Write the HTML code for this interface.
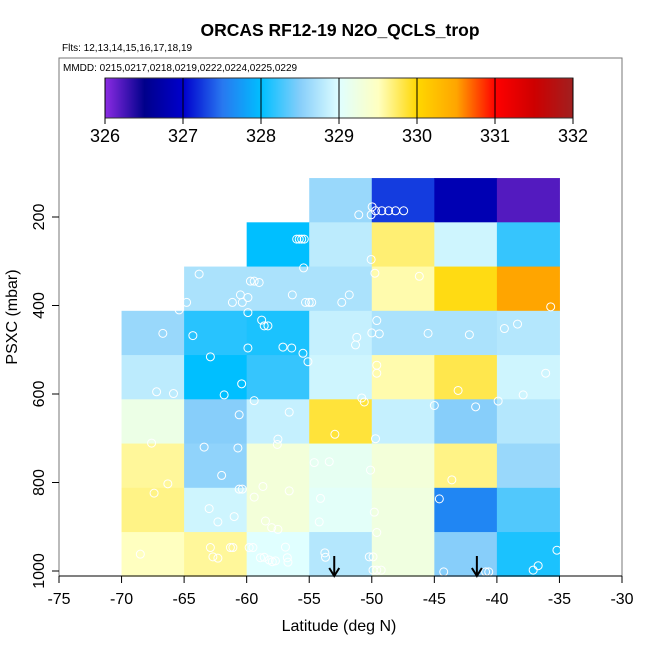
<!DOCTYPE html>
<html><head><meta charset="utf-8"><style>
body{margin:0;background:#fff;}
svg{display:block;font-family:"Liberation Sans",Arial,sans-serif;}
</style></head><body>
<svg id="chart" width="650" height="650" viewBox="0 0 650 650">
<text x="340" y="36" text-anchor="middle" font-size="17.5" font-weight="bold">ORCAS RF12-19 N2O_QCLS_trop</text>
<text x="62" y="51" font-size="10">Flts: 12,13,14,15,16,17,18,19</text>
<rect x="59" y="58" width="563" height="518" fill="none" stroke="#777" stroke-width="1"/>
<text x="63" y="71" font-size="10">MMDD: 0215,0217,0218,0219,0222,0224,0225,0229</text>
<g id="cells"></g>
<g id="pts"></g>
<g id="arrows"></g>
<g id="cbar"></g>
<g id="axes"></g>
<text x="339" y="631" text-anchor="middle" font-size="16">Latitude (deg N)</text>
<text transform="translate(17,317) rotate(-90)" text-anchor="middle" font-size="16">PSXC (mbar)</text>
</svg>
<script>
const latEdges=[-70,-65,-60,-55,-50,-45,-40,-35];
const presEdges=[112,212,312,412,512,612,712,812,912,1012];
// rows top->bottom, columns west->east; null = no data
const cellValues=[
[null,null,null,328.6,327.25,326.8,326.2],
[null,null,328.0,328.8,329.7,328.9,328.2],
[null,328.7,328.7,328.7,329.55,329.95,330.5],
[328.6,328.15,328.1,328.85,328.7,328.7,328.75],
[328.8,328.0,328.2,328.9,329.55,329.8,328.9],
[329.2,328.5,328.85,329.85,328.85,328.5,328.75],
[329.6,328.55,329.3,329.1,329.3,329.65,328.6],
[329.65,328.9,329.3,329.05,329.25,327.6,328.3],
[329.5,329.6,329.0,328.75,329.25,328.5,328.1]];
const ptLat=[-49.97,-49.7,-49.2,-48.65,-48.1,-47.45,-51.04,-50.05,-56.0,-55.8,-55.6,-55.4,-50.05,-63.8,-55.45,-49.75,-46.2,-59.7,-59.4,-59.0,-60.5,-59.9,-56.35,-61.14,-60.35,-64.8,-65.4,-55.3,-55.0,-54.8,-52.4,-51.8,-35.7,-59.9,-58.8,-58.6,-58.3,-66.7,-64.3,-59.9,-57.1,-56.4,-55.5,-55.1,-49.6,-50.0,-49.4,-51.2,-51.3,-45.5,-42.2,-39.4,-38.35,-62.9,-60.4,-61.8,-67.2,-65.85,-49.6,-49.6,-43.1,-36.1,-37.9,-39.9,-59.4,-56.6,-60.6,-50.8,-50.6,-45.0,-41.7,-52.95,-49.7,-57.5,-57.55,-67.6,-63.4,-60.7,-62.0,-66.3,-67.4,-54.6,-53.4,-50.1,-43.6,-60.6,-60.35,-58.7,-56.6,-59.4,-63.0,-61.0,-62.3,-58.5,-58.0,-57.5,-54.1,-54.2,-49.8,-49.6,-44.6,-68.5,-62.9,-62.7,-62.3,-61.3,-61.1,-59.8,-59.5,-56.9,-58.9,-58.6,-58.2,-57.95,-57.7,-56.75,-56.7,-53.75,-53.7,-50.2,-49.9,-49.9,-49.6,-49.25,-44.25,-40.9,-40.65,-37.1,-36.7,-35.2];
const ptPres=[177,186,186,186,186,186,195,195,250,250,250,250,296,329,315,327,334,345,345,348,376,382,376,393,393,393,410,393,393,393,393,376,403,416,433,446,446,463,468,496,494,496,508,527,434,462,464,472,489,463,466,452,442,516,577,602,595,599,535,553,592,553,602,616,615,641,647,609,618,626,629,691,701,702,714,711,720,722,784,803,824,755,753,772,794,815,815,809,819,833,859,877,889,887,902,906,836,889,867,913,837,962,947,968,971,947,947,947,947,946,970,969,975,979,977,970,980,959,969,968,968,998,998,998,1002,1002,1002,998,988,953];
const arrowLat=[-53.0,-41.6];
const xTicks=[-75,-70,-65,-60,-55,-50,-45,-40,-35,-30];
const yTicks=[200,400,600,800,1000];
const cbTicks=[326,327,328,329,330,331,332];

const X=v=>59+(v+75)*(563/45);
const Y=p=>217+(p-200)*0.4425;
const CB=v=>105+(v-326)*78;
const stops=[[326,[138,43,226]],[326.5,[0,0,139]],[327,[0,0,205]],[327.5,[40,120,240]],[328,[0,191,255]],[328.5,[135,206,250]],[329,[224,255,255]],[329.5,[255,255,192]],[330,[255,215,0]],[330.5,[255,165,0]],[331,[255,0,0]],[331.5,[205,0,0]],[332,[160,32,32]]];
function col(v){v=Math.max(326,Math.min(332,v));for(let i=0;i<stops.length-1;i++){const a=stops[i],b=stops[i+1];if(v<=b[0]){const t=(v-a[0])/(b[0]-a[0]);const c=a[1].map((x,k)=>Math.round(x+(b[1][k]-x)*t));return `rgb(${c})`;}}return 'rgb(160,32,32)';}
const NS='http://www.w3.org/2000/svg';
function mk(t,a,p){const e=document.createElementNS(NS,t);for(const k in a)e.setAttribute(k,a[k]);p.appendChild(e);return e;}
const gc=document.getElementById('cells');
cellValues.forEach((row,r)=>row.forEach((v,c)=>{if(v===null)return;
 const x0=X(latEdges[c]),x1=X(latEdges[c+1]),y0=Y(presEdges[r]),y1=Y(presEdges[r+1]);
 const e=mk('rect',{x:x0,y:y0,width:x1-x0+0.5,height:y1-y0+0.5,fill:col(v)},gc);
 
 }));
const gp=document.getElementById('pts');
ptLat.forEach((la,i)=>{const e=mk('circle',{cx:X(la),cy:Y(ptPres[i]),r:4,fill:'none',stroke:'#fff','stroke-width':1},gp);
 
 });
const ga=document.getElementById('arrows');
arrowLat.forEach(la=>{const x=X(la);const g=mk('g',{},ga);
 
 
 mk('line',{x1:x,y1:556,x2:x,y2:575,stroke:'#000','stroke-width':2},g);
 mk('path',{d:`M${x-5},${568} L${x},${576} L${x+5},${568}`,fill:'none',stroke:'#000','stroke-width':2},g);});
const gb=document.getElementById('cbar');
for(let i=0;i<468;i++){const v=326+i/78;mk('rect',{x:105+i,y:78,width:1.2,height:40,fill:col(v)},gb);}
mk('rect',{x:105,y:78,width:468,height:40,fill:'none',stroke:'#333','stroke-width':1},gb);
cbTicks.forEach(t=>{const x=CB(t);
 mk('line',{x1:x,y1:78,x2:x,y2:124,stroke:'#000','stroke-width':1},gb);
 const e=mk('text',{x:x,y:142,'text-anchor':'middle','font-size':18},gb);e.textContent=t;
 
 });
const gx=document.getElementById('axes');
mk('line',{x1:X(-75),y1:576,x2:X(-30),y2:576,stroke:'#000','stroke-width':1},gx);
xTicks.forEach(t=>{const x=X(t);mk('line',{x1:x,y1:576,x2:x,y2:583,stroke:'#000'},gx);
 const e=mk('text',{x:x,y:604,'text-anchor':'middle','font-size':16},gx);e.textContent=t;
 
 });
yTicks.forEach(t=>{const y=Y(t);mk('line',{x1:52,y1:y,x2:59,y2:y,stroke:'#000'},gx);
 const e=mk('text',{'text-anchor':'middle','font-size':16,transform:`translate(44,${y}) rotate(-90)`},gx);e.textContent=t;
 
 });
</script>
</body></html>
